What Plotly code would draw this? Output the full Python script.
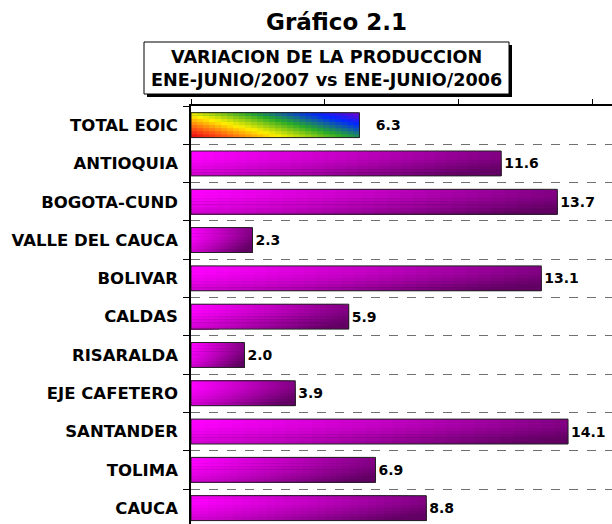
import plotly.graph_objects as go

categories = ["TOTAL EOIC", "ANTIOQUIA", "BOGOTA-CUND", "VALLE DEL CAUCA", "BOLIVAR",
              "CALDAS", "RISARALDA", "EJE CAFETERO", "SANTANDER", "TOLIMA", "CAUCA"]
values = [6.3, 11.6, 13.7, 2.3, 13.1, 5.9, 2.0, 3.9, 14.1, 6.9, 8.8]
title_text = "Gráfico 2.1"
subtitle_text = "VARIACION DE LA PRODUCCION<br>ENE-JUNIO/2007 vs ENE-JUNIO/2006"

W, H = 612, 524
L, R, T, B = 191, 0, 106, 0
PW, PH = W - L - R, H - T - B
BW = 0.65
K, N = 8, 28
FONT = "DejaVu Sans"


def lerp(c1, c2, t):
    return tuple(c1[i] + (c2[i] - c1[i]) * t for i in range(3))


def stops_color(stops, t):
    t = max(0.0, min(1.0, t))
    for (t0, c0), (t1, c1) in zip(stops[:-1], stops[1:]):
        if t <= t1:
            return lerp(c0, c1, (t - t0) / (t1 - t0) if t1 > t0 else 0)
    return stops[-1][1]


def rgb(c):
    return "rgb(%d,%d,%d)" % tuple(int(round(x)) for x in c)


def magenta(u, v):
    t = 0.82 * u + 0.45 * max(0.0, v - 0.25) ** 1.2
    return rgb(stops_color([(0, (255, 0, 255)), (0.45, (190, 0, 190)), (1.0, (98, 0, 100))], t))


rainbow_stops = [(0.0, (230, 0, 20)), (0.15, (255, 90, 20)), (0.34, (255, 240, 0)),
                 (0.58, (40, 170, 40)), (0.82, (0, 40, 255)), (1.0, (120, 0, 200))]


def rainbow(u, v):
    t = (u + 0.6 * (1 - v)) / 1.6
    return rgb(stops_color(rainbow_stops, t))


fig = go.Figure()

groups = [([categories[0]], [values[0]], rainbow),
          (categories[1:], values[1:], magenta)]
for cats, vals, cfun in groups:
    for k in range(K):
        v = (k + 0.5) / K
        for j in range(N, 0, -1):
            f = j / N
            u = (j - 0.5) / N
            fig.add_trace(go.Bar(
                y=cats, x=[val * f for val in vals], orientation="h",
                width=BW * (K - k) / K, offset=-BW / 2 + k * BW / K,
                marker=dict(color=cfun(u, v), line=dict(width=0)),
                hoverinfo="skip", showlegend=False))

labels = ["<b>%.1f</b>" % v for v in values]
labels[0] = "\u00a0\u00a0\u00a0" + labels[0]
fig.add_trace(go.Bar(
    y=categories, x=values, orientation="h", width=BW, offset=-BW / 2,
    marker=dict(color="rgba(0,0,0,0)", line=dict(color="#222222", width=1)),
    text=labels, textposition="outside",
    textfont=dict(family=FONT, size=14, color="black"),
    cliponaxis=False, showlegend=False))


def px_x(p):
    return (p - L) / PW


def px_y(p):
    return (H - B - p) / PH


fig.add_shape(type="rect", xref="paper", yref="paper",
              x0=px_x(147), x1=px_x(512), y0=px_y(97), y1=px_y(45),
              fillcolor="black", line=dict(width=0))
fig.add_shape(type="rect", xref="paper", yref="paper",
              x0=px_x(144), x1=px_x(509), y0=px_y(94), y1=px_y(42),
              fillcolor="white", line=dict(color="black", width=1))
fig.add_annotation(text="<b>" + subtitle_text + "</b>", xref="paper", yref="paper",
                   x=px_x(326), y=px_y(68), xanchor="center", yanchor="middle",
                   showarrow=False, align="center",
                   font=dict(family=FONT, size=17.6, color="black"))
fig.add_annotation(text="<b>" + title_text + "</b>", xref="paper", yref="paper",
                   x=px_x(336), y=px_y(22), xanchor="center", yanchor="middle",
                   showarrow=False, font=dict(family=FONT, size=23, color="black"))

fig.update_layout(
    width=W, height=H, barmode="overlay",
    margin=dict(l=L, r=R, t=T, b=B, autoexpand=False),
    plot_bgcolor="white", paper_bgcolor="white",
    xaxis=dict(side="top", range=[0, PW / 26.74], tickvals=[0, 5, 10, 15],
               showticklabels=False, ticks="outside", ticklen=5, tickcolor="black",
               showline=True, linecolor="black", linewidth=2, automargin=False,
               showgrid=False, zeroline=False),
    yaxis=dict(type="category", categoryorder="array", categoryarray=categories,
               range=[-0.5 + PH / 38.3, -0.5], tickson="boundaries", automargin=False,
               showgrid=True, griddash="dash", gridcolor="#707070", gridwidth=1.3,
               ticks="outside", ticklen=6, tickcolor="black",
               showline=True, linecolor="black", linewidth=1.5, ticklabelstandoff=8,
               tickfont=dict(family=FONT, size=16.5, color="black", weight="bold")),
)

fig.write_html("out.html", config={"displayModeBar": False},
               post_script="document.body.style.margin='0px';")
